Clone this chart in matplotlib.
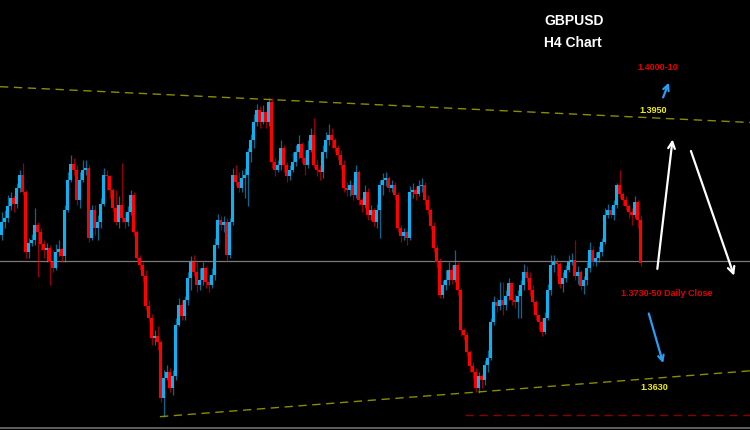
import numpy as np
import matplotlib
matplotlib.use("Agg")
import matplotlib.pyplot as plt

# GBPUSD H4 candles (oldest first)
first_open = 1.3808
close = [
    1.3824, 1.3828, 1.3843, 1.3852, 1.3845, 1.3864, 1.3880, 1.3860, 1.3788, 1.3798,
    1.3802, 1.3820, 1.3812, 1.3797, 1.3790, 1.3792, 1.3776, 1.3768, 1.3788, 1.3791,
    1.3783, 1.3838, 1.3874, 1.3893, 1.3886, 1.3850, 1.3874, 1.3886, 1.3888,
    1.3804, 1.3838, 1.3816, 1.3824, 1.3845, 1.3880, 1.3879, 1.3862, 1.3840, 1.3824,
    1.3844, 1.3828, 1.3824, 1.3836, 1.3856, 1.3812, 1.3780, 1.3772, 1.3759, 1.3723,
    1.3708, 1.3684, 1.3687, 1.3680, 1.3612, 1.3636, 1.3644, 1.3624, 1.3639, 1.3700,
    1.3724, 1.3711, 1.3730, 1.3756,
    1.3776, 1.3764, 1.3748, 1.3754, 1.3768, 1.3752, 1.3748, 1.3760, 1.3796, 1.3826,
    1.3820, 1.3824, 1.3784, 1.3824, 1.3880, 1.3872, 1.3864, 1.3876, 1.3880, 1.3908,
    1.3922, 1.3944, 1.3958, 1.3944, 1.3956, 1.3944, 1.3968,
    1.3896, 1.3886, 1.3892, 1.3912, 1.3892, 1.3879, 1.3886, 1.3896, 1.3908, 1.3917,
    1.3900, 1.3892, 1.3910, 1.3928, 1.3892, 1.3886, 1.3884, 1.3908, 1.3922, 1.3928,
    1.3922, 1.3912, 1.3904, 1.3892, 1.3864, 1.3862, 1.3868, 1.3856, 1.3884, 1.3850,
    1.3844, 1.3860, 1.3832, 1.3838, 1.3824, 1.3838, 1.3868, 1.3874, 1.3876, 1.3864,
    1.3868, 1.3856, 1.3816, 1.3807, 1.3812, 1.3804, 1.3860, 1.3862, 1.3857, 1.3867,
    1.3868, 1.3850, 1.3838, 1.3819, 1.3792, 1.3776, 1.3736,
    1.3748, 1.3754, 1.3766, 1.3754, 1.3772, 1.3742, 1.3694, 1.3688, 1.3668, 1.3651,
    1.3644, 1.3624, 1.3639, 1.3634, 1.3652, 1.3660, 1.3704, 1.3728, 1.3723, 1.3730,
    1.3724, 1.3735, 1.3750, 1.3730, 1.3728, 1.3735, 1.3748, 1.3764, 1.3756, 1.3742,
    1.3728, 1.3712, 1.3704,
    1.3692, 1.3708, 1.3742, 1.3772, 1.3776, 1.3773, 1.3749, 1.3756, 1.3766, 1.3776,
    1.3778, 1.3759, 1.3764, 1.3747, 1.3754, 1.3768, 1.3790, 1.3776, 1.3780, 1.3788,
    1.3800, 1.3832, 1.3838, 1.3832, 1.3844, 1.3868, 1.3857, 1.3850, 1.3843, 1.3836,
    1.3832, 1.3848, 1.3826, 1.3774,
]
high = [
    1.3836, 1.3838, 1.3856, 1.3860, 1.3856, 1.3870, 1.3886, 1.3894, 1.3862, 1.3804,
    1.3809, 1.3840, 1.3824, 1.3816, 1.3802, 1.3798, 1.3796, 1.3790, 1.3797, 1.3802,
    1.3792, 1.3844, 1.3884, 1.3904, 1.3900, 1.3892, 1.3884, 1.3898, 1.3898,
    1.3892, 1.3844, 1.3844, 1.3832, 1.3852, 1.3888, 1.3886, 1.3880, 1.3864, 1.3862,
    1.3855, 1.3894, 1.3836, 1.3843, 1.3862, 1.3860, 1.3814, 1.3784, 1.3776, 1.3766,
    1.3730, 1.3713, 1.3694, 1.3699, 1.3682, 1.3646, 1.3652, 1.3648, 1.3646, 1.3708,
    1.3732, 1.3730, 1.3735, 1.3764,
    1.3783, 1.3784, 1.3776, 1.3768, 1.3776, 1.3771, 1.3760, 1.3768, 1.3804, 1.3833,
    1.3831, 1.3831, 1.3828, 1.3828, 1.3888, 1.3892, 1.3884, 1.3886, 1.3888, 1.3912,
    1.3929, 1.3953, 1.3965, 1.3963, 1.3964, 1.3956, 1.3972,
    1.3972, 1.3900, 1.3898, 1.3922, 1.3916, 1.3896, 1.3892, 1.3908, 1.3916, 1.3928,
    1.3920, 1.3910, 1.3922, 1.3936, 1.3948, 1.3898, 1.3892, 1.3916, 1.3932, 1.3941,
    1.3936, 1.3924, 1.3916, 1.3910, 1.3898, 1.3872, 1.3874, 1.3872, 1.3892, 1.3886,
    1.3852, 1.3868, 1.3864, 1.3844, 1.3840, 1.3845, 1.3874, 1.3882, 1.3884, 1.3879,
    1.3874, 1.3872, 1.3860, 1.3820, 1.3816, 1.3814, 1.3867, 1.3870, 1.3867, 1.3874,
    1.3876, 1.3872, 1.3856, 1.3840, 1.3824, 1.3796, 1.3780,
    1.3754, 1.3766, 1.3776, 1.3772, 1.3790, 1.3776, 1.3744, 1.3696, 1.3692, 1.3670,
    1.3656, 1.3648, 1.3644, 1.3641, 1.3658, 1.3670, 1.3708, 1.3735, 1.3732, 1.3752,
    1.3752, 1.3742, 1.3756, 1.3750, 1.3737, 1.3742, 1.3754, 1.3773, 1.3771, 1.3764,
    1.3748, 1.3730, 1.3712,
    1.3708, 1.3716, 1.3749, 1.3784, 1.3784, 1.3780, 1.3776, 1.3764, 1.3772, 1.3784,
    1.3786, 1.3802, 1.3771, 1.3766, 1.3759, 1.3776, 1.3800, 1.3795, 1.3788, 1.3795,
    1.3804, 1.3840, 1.3845, 1.3843, 1.3850, 1.3870, 1.3886, 1.3860, 1.3855, 1.3845,
    1.3840, 1.3855, 1.3850, 1.3832,
]
low = [
    1.3802, 1.3816, 1.3824, 1.3838, 1.3836, 1.3840, 1.3860, 1.3856, 1.3780, 1.3780,
    1.3795, 1.3796, 1.3758, 1.3790, 1.3780, 1.3776, 1.3748, 1.3764, 1.3766, 1.3783,
    1.3776, 1.3776, 1.3836, 1.3872, 1.3880, 1.3844, 1.3840, 1.3872, 1.3880,
    1.3800, 1.3802, 1.3808, 1.3802, 1.3816, 1.3843, 1.3862, 1.3852, 1.3836, 1.3820,
    1.3816, 1.3824, 1.3816, 1.3819, 1.3832, 1.3807, 1.3776, 1.3766, 1.3752, 1.3718,
    1.3704, 1.3676, 1.3676, 1.3670, 1.3608, 1.3590, 1.3634, 1.3620, 1.3616, 1.3634,
    1.3699, 1.3706, 1.3706, 1.3724,
    1.3742, 1.3759, 1.3740, 1.3742, 1.3748, 1.3744, 1.3740, 1.3744, 1.3754, 1.3792,
    1.3814, 1.3812, 1.3776, 1.3780, 1.3820, 1.3867, 1.3860, 1.3860, 1.3852, 1.3843,
    1.3896, 1.3912, 1.3939, 1.3936, 1.3941, 1.3936, 1.3939,
    1.3888, 1.3879, 1.3884, 1.3886, 1.3884, 1.3872, 1.3874, 1.3884, 1.3891, 1.3900,
    1.3894, 1.3880, 1.3888, 1.3908, 1.3888, 1.3879, 1.3874, 1.3876, 1.3900, 1.3916,
    1.3912, 1.3908, 1.3898, 1.3886, 1.3860, 1.3855, 1.3855, 1.3850, 1.3852, 1.3844,
    1.3836, 1.3840, 1.3826, 1.3826, 1.3819, 1.3816, 1.3804, 1.3856, 1.3867, 1.3860,
    1.3860, 1.3850, 1.3812, 1.3800, 1.3802, 1.3796, 1.3802, 1.3852, 1.3850, 1.3855,
    1.3860, 1.3844, 1.3833, 1.3814, 1.3788, 1.3768, 1.3732,
    1.3732, 1.3742, 1.3748, 1.3749, 1.3752, 1.3736, 1.3687, 1.3682, 1.3663, 1.3644,
    1.3636, 1.3620, 1.3618, 1.3624, 1.3628, 1.3644, 1.3658, 1.3700, 1.3716, 1.3718,
    1.3712, 1.3718, 1.3730, 1.3724, 1.3720, 1.3708, 1.3708, 1.3742, 1.3752, 1.3735,
    1.3723, 1.3706, 1.3694,
    1.3687, 1.3689, 1.3706, 1.3736, 1.3764, 1.3759, 1.3744, 1.3740, 1.3752, 1.3764,
    1.3772, 1.3754, 1.3749, 1.3742, 1.3737, 1.3748, 1.3764, 1.3771, 1.3771, 1.3776,
    1.3783, 1.3797, 1.3828, 1.3828, 1.3826, 1.3840, 1.3852, 1.3844, 1.3838, 1.3828,
    1.3820, 1.3828, 1.3816, 1.3771,
]

# levels and trend lines (candle index, price)
current_level = 1.3777
support_level = 1.3592
upper_trend = ([-0.5, 249.5], [1.3986, 1.3943])
lower_trend = ([52.8, 249.5], [1.3590, 1.3645])
support_start = 154.5

close = np.array(close)
high = np.array(high)
low = np.array(low)
opens = np.concatenate([[first_open], close[:-1]])
idx = np.arange(len(close))
up = close >= opens

BLUE = '#0fb0f2'
RED = '#ff0000'

fig = plt.figure(figsize=(7.5, 4.3), dpi=100, facecolor='black')
ax = fig.add_axes([0, 0, 1, 1])
ax.set_facecolor('black')
ax.set_xlim(-0.5, 249.5)
ax.set_ylim(1.3574, 1.4090)
ax.axis('off')

ax.axhline(current_level, color='#7a7a7a', lw=0.9, zorder=1)
ax.plot([0, 1], [0.004, 0.004], transform=ax.transAxes, color='#707070', lw=1.2)

colors = np.where(up, BLUE, RED)
ax.vlines(idx, low, high, colors=colors, lw=0.9, alpha=0.6, zorder=2)
body = np.abs(close - opens)
body = np.maximum(body, 0.00012)
ax.bar(idx, body, bottom=np.minimum(close, opens), width=0.68,
       color=colors, linewidth=0, antialiased=False, zorder=3)

ax.plot(*upper_trend, color='#8c8c00', lw=1.0, dashes=(6, 4), zorder=4)
ax.plot(*lower_trend, color='#8c8c00', lw=1.0, dashes=(6, 4), zorder=4)
ax.plot([support_start, 249.5], [support_level, support_level],
        color='#8a0000', lw=1.0, dashes=(6, 4), zorder=4)

font = ['Liberation Sans', 'DejaVu Sans']
ax.text(190.8, 1.40648, 'GBPUSD', color='white', fontsize=10, fontweight='bold',
        ha='center', va='center', family=font)
ax.text(190.5, 1.40384, 'H4 Chart', color='white', fontsize=10, fontweight='bold',
        ha='center', va='center', family=font)
ax.text(218.8, 1.40084, '1.4000-10', color='#e00000', fontsize=6.5,
        fontweight='bold', ha='center', va='center', family=font)
ax.text(217.2, 1.39580, '1.3950', color='#f0f000', fontsize=6.5,
        fontweight='bold', ha='center', va='center', family=font)
ax.text(221.8, 1.37384, '1.3730-50 Daily Close', color='#e00000', fontsize=6.5,
        fontweight='bold', ha='center', va='center', family=font)
ax.text(217.5, 1.36256, '1.3630', color='#f0f000', fontsize=6.5,
        fontweight='bold', ha='center', va='center', family=font)

arrow_blue = dict(arrowstyle='->', color='#2a9df4', lw=1.6, mutation_scale=10)
arrow_white = dict(arrowstyle='->', color='white', lw=1.6, mutation_scale=12)
ax.annotate('', xy=(222.8, 1.3994), xytext=(220.2, 1.3970), arrowprops=arrow_blue)
ax.annotate('', xy=(220.8, 1.3651), xytext=(215.5, 1.3717), arrowprops=arrow_blue)
ax.annotate('', xy=(223.8, 1.3926), xytext=(218.5, 1.3764), arrowprops=arrow_white)
ax.annotate('', xy=(244.5, 1.3756), xytext=(229.5, 1.3912), arrowprops=arrow_white)

fig.savefig('out.png', dpi=100, facecolor='black')
